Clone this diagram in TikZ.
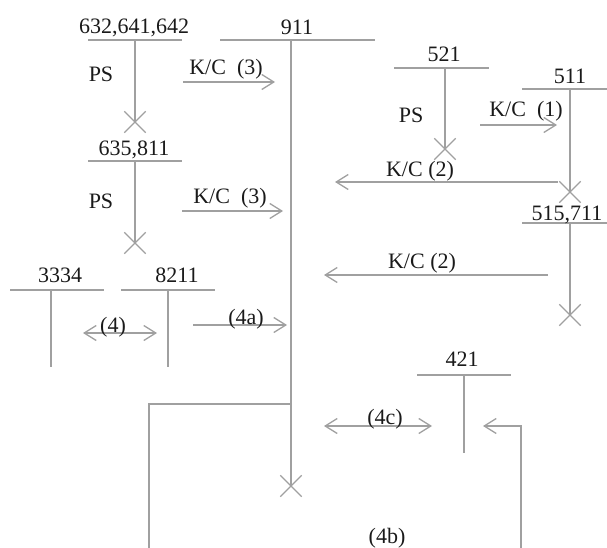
\documentclass[tikz,border=0pt]{standalone}
\usepackage{fontspec}
\setmainfont{Liberation Serif}
\usetikzlibrary{arrows.meta,shapes.misc}
\definecolor{lnc}{HTML}{A0A0A0}
\definecolor{tx}{HTML}{1A1A1A}
\begin{document}
\begin{tikzpicture}[x=1pt,y=-1pt,
 lbl/.style={font=\fontsize{22}{24}\selectfont, text=tx, anchor=base, inner sep=0pt},
 ln/.style={draw=lnc, line width=1.3pt},
 arr/.style={ln, -{Straight Barb[length=12pt,width=15pt]}},
 darr/.style={ln, {Straight Barb[length=12pt,width=15pt]}-{Straight Barb[length=12pt,width=15pt]}},
 xm/.style={cross out, draw=lnc, line width=1.3pt, minimum size=20pt, inner sep=0pt}]
\useasboundingbox (0,0) rectangle (607,548);

% T 632,641,642
\coordinate (a1) at (88,40); \coordinate (a2) at (182,40); \coordinate (a3) at (135,40);
\node[xm] (xa) at (135,122) {};
\draw[ln] (a1) -- (a2); \draw[ln] (a3) -- (xa.center);
\node[lbl] (la) at (134,34) {632,641,642};
\node[lbl] (psa) at (101,82) {PS};

% T 635,811
\coordinate (b1) at (88,161); \coordinate (b2) at (182,161); \coordinate (b3) at (135,161);
\node[xm] (xb) at (135,243) {};
\draw[ln] (b1) -- (b2); \draw[ln] (b3) -- (xb.center);
\node[lbl] (lb) at (134,156) {635,811};
\node[lbl] (psb) at (101,208) {PS};

% T 911
\coordinate (c1) at (220,40); \coordinate (c2) at (375,40); \coordinate (c3) at (291,40);
\node[xm] (xc) at (291,486) {};
\draw[ln] (c1) -- (c2); \draw[ln] (c3) -- (xc.center);
\node[lbl] (lc) at (297,35) {911};

% K/C (3) arrows
\coordinate (k1s) at (183,82); \coordinate (k1e) at (275,82);
\draw[arr] (k1s) -- (k1e);
\node[lbl] (lk1) at (226,75) {K/C\ \ (3)};
\coordinate (k2s) at (182,211); \coordinate (k2e) at (283,211);
\draw[arr] (k2s) -- (k2e);
\node[lbl] (lk2) at (230,203) {K/C\ \ (3)};

% T 521
\coordinate (d1) at (394,68); \coordinate (d2) at (489,68); \coordinate (d3) at (445,68);
\node[xm] (xd) at (445,149) {};
\draw[ln] (d1) -- (d2); \draw[ln] (d3) -- (xd.center);
\node[lbl] (ld) at (444,62) {521};
\node[lbl] (psd) at (411,123) {PS};

% T 511
\coordinate (e1) at (522,89); \coordinate (e2) at (607,89); \coordinate (e3) at (570,89);
\node[xm] (xe) at (570,192) {};
\draw[ln] (e1) -- (e2); \draw[ln] (e3) -- (xe.center);
\node[lbl] (le) at (570,84) {511};

% K/C (1)
\coordinate (k3s) at (480,125); \coordinate (k3e) at (557,125);
\draw[arr] (k3s) -- (k3e);
\node[lbl] (lk3) at (526,117) {K/C\ \ (1)};

% K/C (2) upper
\coordinate (k4s) at (558,182); \coordinate (k4e) at (335,182);
\draw[arr] (k4s) -- (k4e);
\node[lbl] (lk4) at (420,177) {K/C (2)};

% T 515,711
\coordinate (f1) at (522,223); \coordinate (f2) at (607,223); \coordinate (f3) at (570,223);
\node[xm] (xf) at (570,315) {};
\draw[ln] (f1) -- (f2); \draw[ln] (f3) -- (xf.center);
\node[lbl] (lf) at (567,220) {515,711};

% K/C (2) lower
\coordinate (k5s) at (548,275); \coordinate (k5e) at (324,275);
\draw[arr] (k5s) -- (k5e);
\node[lbl] (lk5) at (422,268) {K/C (2)};

% T 3334
\coordinate (g1) at (10,290); \coordinate (g2) at (104,290); \coordinate (g3) at (51,290); \coordinate (g4) at (51,367);
\draw[ln] (g1) -- (g2); \draw[ln] (g3) -- (g4);
\node[lbl] (lg) at (60,282) {3334};

% T 8211
\coordinate (h1) at (121,290); \coordinate (h2) at (215,290); \coordinate (h3) at (168,290); \coordinate (h4) at (168,367);
\draw[ln] (h1) -- (h2); \draw[ln] (h3) -- (h4);
\node[lbl] (lh) at (177,282) {8211};

% (4)
\coordinate (p4s) at (83,333); \coordinate (p4e) at (157,333);
\draw[darr] (p4s) -- (p4e);
\node[lbl] (l4) at (113,332) {(4)};

% (4a)
\coordinate (p4as) at (193,325); \coordinate (p4ae) at (287,325);
\draw[arr] (p4as) -- (p4ae);
\node[lbl] (l4a) at (246,324) {(4a)};

% T 421
\coordinate (i1) at (417,375); \coordinate (i2) at (511,375); \coordinate (i3) at (464,375); \coordinate (i4) at (464,453);
\draw[ln] (i1) -- (i2); \draw[ln] (i3) -- (i4);
\node[lbl] (li) at (462,366) {421};

% (4c)
\coordinate (p4cs) at (324,426); \coordinate (p4ce) at (432,426);
\draw[darr] (p4cs) -- (p4ce);
\node[lbl] (l4c) at (385,424) {(4c)};

% (4b) loop
\coordinate (bl1) at (149,548); \coordinate (bl2) at (149,404); \coordinate (bl3) at (291,404);
\draw[ln] (bl1) -- (bl2) -- (bl3);
\coordinate (br1) at (521,548); \coordinate (br2) at (521,426); \coordinate (br3) at (483,426);
\draw[arr] (br1) -- (br2) -- (br3);
\node[lbl] (l4b) at (387,543) {(4b)};
\end{tikzpicture}
\end{document}
